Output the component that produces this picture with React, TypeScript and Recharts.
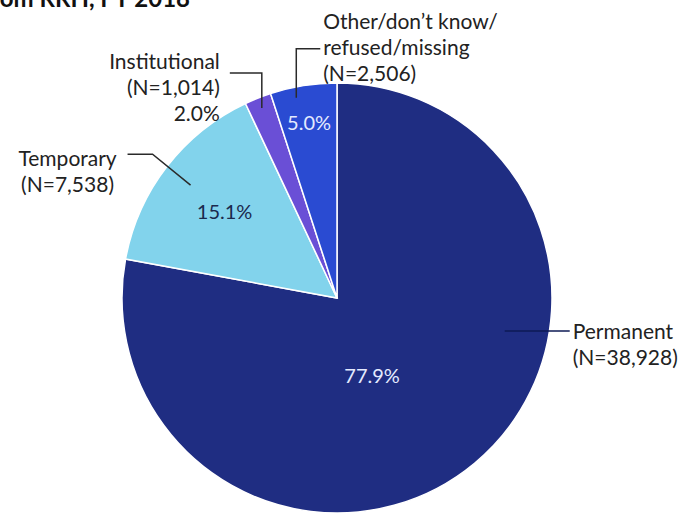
import { PieChart, Pie, Cell } from "recharts"

const categories = ["Permanent", "Temporary", "Institutional", "Other/don't know/refused/missing"]
const counts = [38928, 7538, 1014, 2506]
const percents = [77.9, 15.1, 2.0, 5.0]

const COLORS = ["#1f2d82", "#82d3ec", "#6a4fd6", "#2a4bd2"]
const PCT_COLORS = ["#e4eaff", "#1b2a4e", "", "#e4eaff"]

const FONT = "Lato, 'Noto Sans', sans-serif"
const RADIAN = Math.PI / 180

// where the percentage sits and how each callout is drawn (angles in degrees, r as fraction of radius)
const LAYOUT = [
  {
    pct: { angle: -65.6, r: 0.395 },
    anchor: { angle: -11.1, r: 0.795 },
    leader: [[65, 0]],
    text: { dx: 3, dy: 0, anchor: "start" },
    lines: ["Permanent", `(N=${counts[0].toLocaleString("en-US")})`],
  },
  {
    pct: { angle: null, r: 0.66 },
    anchor: { angle: null, r: 0.86 },
    leader: [[-38, -31], [-25, 0]],
    text: { dx: -60, dy: 3, anchor: "middle" },
    lines: ["Temporary", `(N=${counts[1].toLocaleString("en-US")})`],
  },
  {
    pct: null,
    anchor: { angle: null, r: 0.95 },
    leader: [[0, -35], [-32, 0]],
    text: { dx: -10, dy: -13, anchor: "end" },
    lines: ["Institutional", `(N=${counts[2].toLocaleString("en-US")})`, `${percents[2].toFixed(1)}%`],
  },
  {
    pct: { angle: null, r: 0.83 },
    anchor: { angle: 101.5, r: 0.95 },
    leader: [[0, -49], [24, 0]],
    text: { dx: 3, dy: -28, anchor: "start" },
    lines: ["Other/don\u2019t know/", "refused/missing", `(N=${counts[3].toLocaleString("en-US")})`],
  },
]

const data = categories.map((name, i) => ({ name, value: percents[i] }))

function polar(cx: number, cy: number, r: number, angle: number) {
  return [cx + r * Math.cos(-angle * RADIAN), cy + r * Math.sin(-angle * RADIAN)]
}

function renderLabel(props: any) {
  const { cx, cy, outerRadius, midAngle, index } = props
  const cfg = LAYOUT[index]
  const [ax, ay] = polar(cx, cy, outerRadius * cfg.anchor.r, cfg.anchor.angle ?? midAngle)
  const pts: number[][] = [[ax, ay]]
  cfg.leader.forEach(([dx, dy]) => {
    const [px, py] = pts[pts.length - 1]
    pts.push([px + dx, py + dy])
  })
  const [ex, ey] = pts[pts.length - 1]
  const tx = ex + cfg.text.dx
  const ty = ey + cfg.text.dy

  let pctEl = null
  if (cfg.pct) {
    const [px, py] = polar(cx, cy, outerRadius * cfg.pct.r, cfg.pct.angle ?? midAngle)
    pctEl = (
      <text x={px} y={py} textAnchor="middle" dominantBaseline="central" fill={PCT_COLORS[index]} fontSize={20} fontFamily={FONT}>
        {`${percents[index].toFixed(1)}%`}
      </text>
    )
  }

  return (
    <g key={`lbl-${index}`}>
      <polyline points={pts.map((p) => p.join(",")).join(" ")} fill="none" stroke={index === 0 ? "#0e1a55" : "#2a2a2a"} strokeWidth={1.5} />
      {pctEl}
      {cfg.lines.map((line, j) => (
        <text key={j} x={tx} y={ty + j * 26} textAnchor={cfg.text.anchor as any} dominantBaseline="central" fill="#222" fontSize={21} fontFamily={FONT}>
          {line}
        </text>
      ))}
    </g>
  )
}

export default function App() {
  return (
    <div style={{ width: 678, height: 513, background: "#fff", position: "relative", overflow: "hidden" }}>
      <style>{`body{margin:0}`}</style>
      <PieChart width={678} height={513} margin={{ top: 0, right: 0, bottom: 0, left: 0 }}>
        <text x={190} y={7} textAnchor="end" fontSize={24} fontWeight={700} fontFamily={FONT} fill="#111">
          Exit Destinations from RRH, FY 2018
        </text>
        <Pie
          data={data}
          dataKey="value"
          nameKey="name"
          cx={337}
          cy={298}
          outerRadius={215}
          startAngle={90}
          endAngle={-270}
          stroke="#ffffff"
          strokeWidth={1.5}
          label={renderLabel}
          labelLine={false}
          isAnimationActive={false}
        >
          {data.map((_, i) => (
            <Cell key={i} fill={COLORS[i]} />
          ))}
        </Pie>
      </PieChart>
    </div>
  )
}
